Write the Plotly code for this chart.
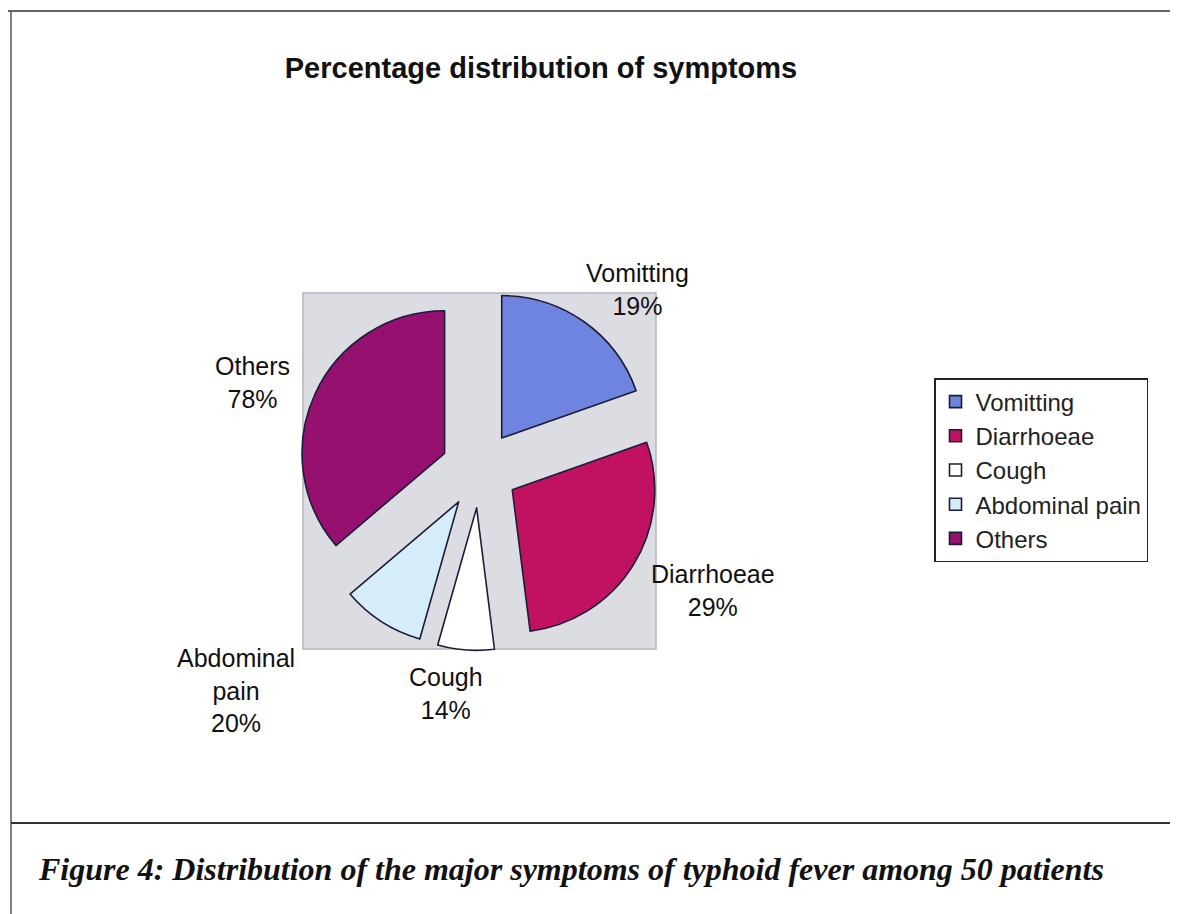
import plotly.graph_objects as go

W, H = 1178, 914
OFF = 8  # the page body adds an 8px margin around the figure

# data
symptoms = ["Vomitting", "Diarrhoeae", "Cough", "Abdominal pain", "Others"]
slice_share = [19.6, 28.4, 6.4, 9.4, 36.2]   # angular size of each slice
label_pct = [19, 29, 14, 20, 78]             # percentages as printed on the labels
slice_colors = ["#6e84de", "#c01261", "#ffffff", "#d5edf9", "#961070"]


def fx(px):
    return (px - OFF) / W


def fy(py):
    return 1 - (py - OFF) / H


# pie box (pixels): centre of the grey plot area
cx, cy, half = 479.5, 469.5, 181

fig = go.Figure(go.Pie(
    labels=symptoms,
    values=slice_share,
    sort=False,
    direction="clockwise",
    rotation=0,
    pull=0.27,
    textinfo="none",
    hoverinfo="label+percent",
    marker=dict(colors=slice_colors, line=dict(color="#1c1c3a", width=1.6)),
    domain=dict(x=[fx(cx - half), fx(cx + half)], y=[fy(cy + half), fy(cy - half)]),
))

# outside labels, Excel style
label_pos = [(637, 289), (713, 590), (446, 693), (236, 690), (252, 382)]
annotations = []
for name, pct, (x, y) in zip(symptoms, label_pct, label_pos):
    annotations.append(dict(
        text=f"{name.replace(' ', '<br>')}<br>{pct}%",
        x=fx(x), y=fy(y), xref="paper", yref="paper",
        xanchor="center", yanchor="middle", showarrow=False,
        font=dict(family="Liberation Sans", size=25, color="#111"),
    ))

annotations.append(dict(
    text="Figure 4: Distribution of the major symptoms of typhoid fever among 50 patients",
    x=fx(36), y=fy(869), xref="paper", yref="paper",
    xanchor="left", yanchor="middle", showarrow=False,
    font=dict(family="Liberation Serif", size=32, color="#111", weight="bold", style="italic"),
))

shapes = [
    # grey plot area behind the pie
    dict(type="rect", xref="paper", yref="paper", layer="below",
         x0=fx(303), x1=fx(656), y0=fy(649), y1=fy(293),
         fillcolor="#dcdce3", line=dict(color="#b4b4bc", width=1.5)),
    # frame lines of the scanned figure
    dict(type="line", xref="paper", yref="paper", x0=0, x1=1, y0=fy(11), y1=fy(11),
         line=dict(color="#333", width=1.5)),
    dict(type="line", xref="paper", yref="paper", x0=fx(11), x1=fx(11), y0=fy(11), y1=0,
         line=dict(color="#555", width=1.5)),
    dict(type="line", xref="paper", yref="paper", x0=fx(1173), x1=fx(1173), y0=fy(8), y1=fy(110),
         line=dict(color="#555", width=1.2)),
    dict(type="line", xref="paper", yref="paper", x0=fx(11), x1=1, y0=fy(823), y1=fy(823),
         line=dict(color="#333", width=2)),
]

fig.update_layout(
    width=W, height=H, autosize=False,
    margin=dict(l=0, r=0, t=0, b=0),
    paper_bgcolor="white",
    title=dict(
        text="<b>Percentage distribution of symptoms</b>",
        x=fx(541), y=fy(68), xref="paper", yref="paper",
        xanchor="center", yanchor="middle",
        font=dict(family="Liberation Sans", size=29, color="#111"),
    ),
    legend=dict(
        x=fx(934), y=fy(378), xanchor="left", yanchor="top",
        bgcolor="white", bordercolor="#222", borderwidth=1.5,
        font=dict(family="Liberation Sans", size=24, color="#222"),
    ),
    annotations=annotations,
    shapes=shapes,
)

fig.write_html("out.html")
